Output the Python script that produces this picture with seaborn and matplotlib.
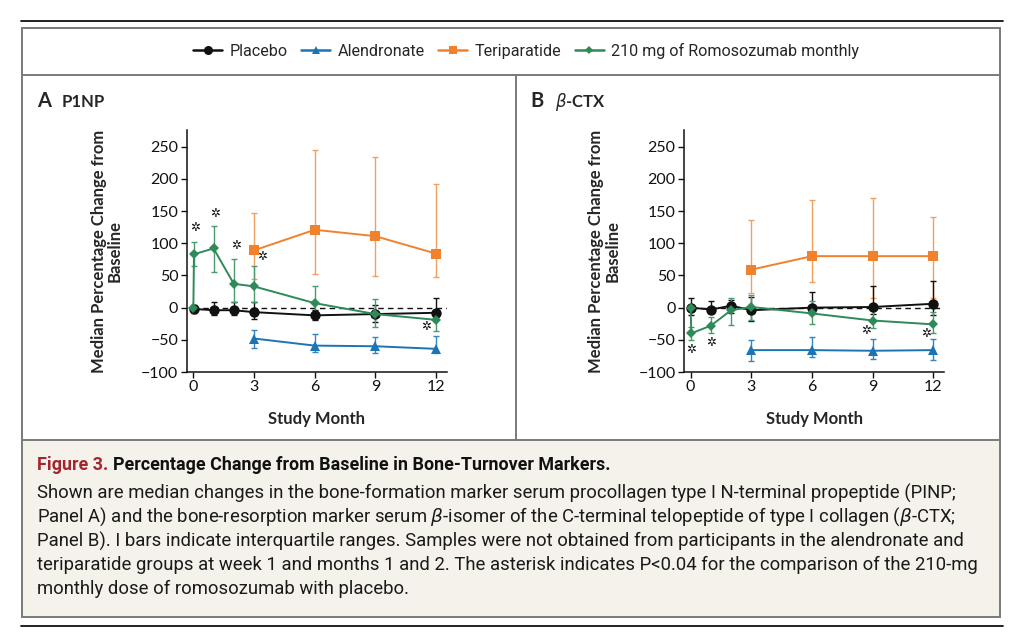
"""Bone-turnover markers figure (P1NP and beta-CTX) redrawn with seaborn."""
import matplotlib
matplotlib.use("Agg")
import matplotlib.pyplot as plt
from matplotlib.lines import Line2D
from matplotlib.patches import Rectangle
import numpy as np
import seaborn as sns

sns.set_theme(style="ticks")
plt.rcParams["font.family"] = ["Lato", "DejaVu Sans"]
plt.rcParams["mathtext.fontset"] = "dejavusans"

W, H = 1024, 637
WK1 = 0.03  # week 1 is drawn practically on top of month 0

# --- data (median % change from baseline, with interquartile range) ---
MONTHS_ROMO = [0, WK1, 1, 2, 3, 6, 9, 12]
MONTHS_PLACEBO = [WK1, 1, 2, 3, 6, 9, 12]
MONTHS_ACTIVE = [3, 6, 9, 12]

# Panel A: P1NP
placebo_a = [-2, -4, -4, -7, -12, -10, -8]
placebo_a_lo = [-8, -11, -12, -17, -19, -22, -14]
placebo_a_hi = [4, 9, 9, 9, -4, 4, 15]
alen_a = [-48, -59, -60, -64]
alen_a_lo = [-63, -69, -70, -70]
alen_a_hi = [-35, -41, -45, -44]
teri_a = [89, 121, 111, 84]
teri_a_lo = [45, 52, 49, 47]
teri_a_hi = [147, 245, 234, 192]
romo_a = [0, 83, 92, 37, 33, 7, -10, -19]
romo_a_lo = [0, 65, 56, 9, 9, -10, -30, -37]
romo_a_hi = [0, 102, 127, 75, 64, 33, 14, -3]
stars_a_x = [0.08, 1.07, 2.1, 3.38, 11.5]
stars_a_y = [124, 147, 96, 80, -30]

# Panel B: beta-CTX
placebo_b = [0, -3, 3, -4, 0, 1, 6]
placebo_b_lo = [-12, -9, -8, -20, -10, -10, -12]
placebo_b_hi = [15, 10, 12, 17, 25, 33, 42]
alen_b = [-66, -66, -67, -66]
alen_b_lo = [-83, -76, -80, -81]
alen_b_hi = [-50, -45, -48, -49]
teri_b = [59, 80, 80, 80]
teri_b_lo = [22, 40, 15, 15]
teri_b_hi = [136, 167, 170, 141]
romo_b = [0, -40, -28, -4, 1, -9, -20, -26]
romo_b_lo = [0, -50, -40, -27, -19, -26, -31, -40]
romo_b_hi = [0, -30, -14, 15, 20, 10, 0, -6]
stars_b_x = [0.0, 1.02, 8.67, 11.64]
stars_b_y = [-65, -54, -35, -40]

SERIES = ["Placebo", "Alendronate", "Teriparatide", "210 mg of Romosozumab monthly"]
COLORS = {"Placebo": "#111111", "Alendronate": "#1b75b5",
          "Teriparatide": "#f0822e", "210 mg of Romosozumab monthly": "#2e8a58"}
ERR_COLORS = {"Placebo": "#111111", "Alendronate": "#3585bd",
              "Teriparatide": "#f0a060", "210 mg of Romosozumab monthly": "#4a9a6e"}
MARKERS = {"Placebo": "o", "Alendronate": "^", "Teriparatide": "s",
           "210 mg of Romosozumab monthly": "D"}
MSIZE = {"Placebo": 7.5, "Alendronate": 7, "Teriparatide": 6.5,
         "210 mg of Romosozumab monthly": 5.5}

YTICKS = [-100, -50, 0, 50, 100, 150, 200, 250]
XTICKS = [0, 3, 6, 9, 12]

CAP_FONT = ["Roboto", "DejaVu Sans"]


def fx(px):
    return px / W


def fy(py):
    return 1 - py / H


def draw_series(ax, name, x, y, lo, hi):
    y = np.asarray(y, float)
    yerr = np.vstack([y - np.asarray(lo), np.asarray(hi) - y])
    ax.errorbar(x, y, yerr=yerr, fmt="none", ecolor=ERR_COLORS[name],
                elinewidth=1.0, capsize=2, capthick=1.0, zorder=2)
    sns.lineplot(x=x, y=y, ax=ax, color=COLORS[name], marker=MARKERS[name],
                 markersize=MSIZE[name], markeredgewidth=0, linewidth=1.4,
                 label=name, legend=False, zorder=3, sort=False)


def style_axes(ax):
    ax.set_xlim(-0.33, 12.53)
    ax.set_ylim(-100, 276)
    ax.set_xticks(XTICKS)
    ax.set_yticks(YTICKS)
    ax.set_yticklabels([str(t).replace("-", "\u2212") for t in YTICKS])
    sns.despine(ax=ax)
    for s in ("left", "bottom"):
        ax.spines[s].set_linewidth(1.1)
        ax.spines[s].set_color("#111111")
    ax.tick_params(axis="both", direction="out", length=4, width=1.0,
                   labelsize=11.5, colors="#111111", pad=2)
    ax.axhline(0, xmin=0.33 / 12.86, xmax=1, color="#111111", lw=1.0,
               ls=(0, (4, 3)), zorder=1)
    ax.set_xlabel("Study Month", fontsize=12, fontweight="bold")
    ax.xaxis.set_label_coords(0.5, -0.16)
    ax.set_ylabel("Median Percentage Change from\nBaseline", fontsize=12,
                  fontweight="bold", linespacing=1.0)
    ax.yaxis.set_label_coords(-0.245, 0.5)


def draw_stars(ax, xs, ys):
    for x, y in zip(xs, ys):
        ax.text(x, y, "\u2732", ha="center", va="center", fontsize=8.5,
                family=["DejaVu Sans"], color="#111111", zorder=4)


fig = plt.figure(figsize=(W / 100, H / 100), dpi=100)
fig.patch.set_facecolor("white")

ax_a = fig.add_axes([fx(186.7), fy(372), fx(446.7) - fx(186.7), fy(130) - fy(372)])
ax_b = fig.add_axes([fx(684), fy(372), fx(944) - fx(684), fy(130) - fy(372)])

panels = [
    (ax_a, [placebo_a, placebo_a_lo, placebo_a_hi], [alen_a, alen_a_lo, alen_a_hi],
     [teri_a, teri_a_lo, teri_a_hi], [romo_a, romo_a_lo, romo_a_hi], stars_a_x, stars_a_y),
    (ax_b, [placebo_b, placebo_b_lo, placebo_b_hi], [alen_b, alen_b_lo, alen_b_hi],
     [teri_b, teri_b_lo, teri_b_hi], [romo_b, romo_b_lo, romo_b_hi], stars_b_x, stars_b_y),
]
for ax, plc, aln, ter, rom, sx, sy in panels:
    draw_series(ax, "Teriparatide", MONTHS_ACTIVE, *ter)
    draw_series(ax, "Alendronate", MONTHS_ACTIVE, *aln)
    draw_series(ax, "Placebo", MONTHS_PLACEBO, *plc)
    draw_series(ax, "210 mg of Romosozumab monthly", MONTHS_ROMO, *rom)
    style_axes(ax)
    draw_stars(ax, sx, sy)

# panel titles
fig.text(fx(37), fy(101), "A", fontsize=14.5, fontweight="bold", va="center")
fig.text(fx(62), fy(102), "P1NP", fontsize=12, fontweight="bold", va="center")
fig.text(fx(530), fy(101), "B", fontsize=14.5, fontweight="bold", va="center")
fig.text(fx(555), fy(102), r"$\beta$-CTX", fontsize=12, fontweight="bold", va="center")

# legend
handles = [Line2D([], [], color=COLORS[n], marker=MARKERS[n], markersize=MSIZE[n] - 1.0,
                  markeredgewidth=0, lw=1.8) for n in SERIES]
fig.legend(handles, SERIES, loc="center", bbox_to_anchor=(fx(526), fy(51)), ncol=4,
           frameon=False, handlelength=1.8, handletextpad=0.45,
           columnspacing=0.85, prop={"family": CAP_FONT, "size": 11.6})

# frame, rules and caption box
GREY = "#7a7a7a"
fig.add_artist(Rectangle((fx(22), fy(617)), fx(1000) - fx(22), fy(440) - fy(617),
                         transform=fig.transFigure, facecolor="#f5f2ec", edgecolor="none", zorder=0))
fig.add_artist(Rectangle((fx(22), fy(617)), fx(1000) - fx(22), fy(28) - fy(617),
                         transform=fig.transFigure, facecolor="none", edgecolor=GREY, lw=1.4))
for (x0, y0, x1, y1, c, lw) in [
    (22, 75, 1000, 75, GREY, 1.4),
    (22, 440, 1000, 440, GREY, 1.4),
    (516, 75, 516, 440, GREY, 1.4),
    (21, 21, 1003, 21, "#111111", 1.3),
    (21, 626, 1003, 626, "#111111", 1.3),
]:
    fig.add_artist(Line2D([fx(x0), fx(x1)], [fy(y0), fy(y1)], transform=fig.transFigure,
                          color=c, lw=lw))

# caption: heading, then body lines scaled so the widest line fits the box like the original
renderer = fig.canvas.get_renderer()
t1 = fig.text(fx(37), fy(465), "Figure 3.", color="#a3262e", fontsize=12.5,
              fontweight="bold", family=CAP_FONT, va="center")
t2 = fig.text(fx(37), fy(465), "Percentage Change from Baseline in Bone-Turnover Markers.",
              fontsize=12.5, fontweight="bold", family=CAP_FONT, va="center", color="#111111")
w_head = t1.get_window_extent(renderer).width + 5 + t2.get_window_extent(renderer).width
k = 575 / w_head
t1.set_fontsize(12.5 * k)
t2.set_fontsize(12.5 * k)
t2.set_x(fx(37) + (t1.get_window_extent(renderer).width + 5) / W)

caption_lines = [
    "Shown are median changes in the bone-formation marker serum procollagen type I N-terminal propeptide (PINP;",
    r"Panel A) and the bone-resorption marker serum $\beta$-isomer of the C-terminal telopeptide of type I collagen ($\beta$-CTX;",
    "Panel B). I bars indicate interquartile ranges. Samples were not obtained from participants in the alendronate and",
    "teriparatide groups at week 1 and months 1 and 2. The asterisk indicates P<0.04 for the comparison of the 210-mg",
    "monthly dose of romosozumab with placebo.",
]
line_widths = [951, 935, 935, 943, 370]
body = [fig.text(fx(37), fy(493 + 24 * i), line, fontsize=13, family=CAP_FONT,
                 va="center", color="#1a1a1a") for i, line in enumerate(caption_lines)]
k = min(w / t.get_window_extent(renderer).width for w, t in zip(line_widths, body))
for t in body:
    t.set_fontsize(13 * k)

fig.savefig("out.png", dpi=100)
